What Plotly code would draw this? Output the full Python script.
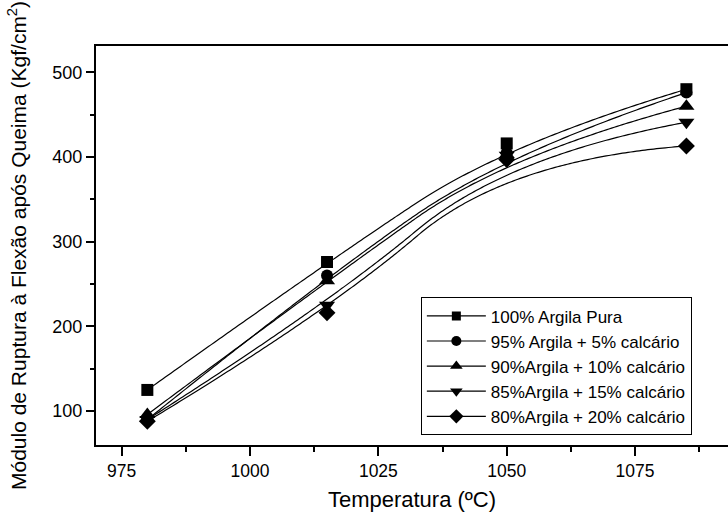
import numpy as np
import plotly.graph_objects as go

temperatures = [980, 1015, 1050, 1085]
series_names = [
    "100% Argila Pura",
    "95% Argila + 5% calcário",
    "90%Argila + 10% calcário",
    "85%Argila + 15% calcário",
    "80%Argila + 20% calcário",
]
argila_100 = [125, 276, 416, 480]
argila_95 = [90, 260, 405, 476]
argila_90 = [96, 254, 403, 460]
argila_85 = [90, 225, 402, 441]
argila_80 = [88, 216, 397, 413]
series_values = [argila_100, argila_95, argila_90, argila_85, argila_80]
symbols = ["square", "circle", "triangle-up", "triangle-down", "diamond"]
marker_sizes = [12, 12, 14, 14, 13]
legend_sizes = [9, 10, 11, 11, 11]

FONT = "Liberation Sans, Arial, sans-serif"


def bspline2(xs, ys, n=60):
    # clamped quadratic B-spline smoothing with data points as control points
    P = np.column_stack([np.asarray(xs, float), np.asarray(ys, float)])
    m = len(P)
    out = []
    u = np.linspace(0, 1, n)[:, None]
    for i in range(1, m - 1):
        a = P[0] if i == 1 else (P[i - 1] + P[i]) / 2
        b = P[i]
        c = P[-1] if i == m - 2 else (P[i] + P[i + 1]) / 2
        seg = (1 - u) ** 2 * a + 2 * u * (1 - u) * b + u ** 2 * c
        out.append(seg if i == 1 else seg[1:])
    out = np.vstack(out)
    return out[:, 0], out[:, 1]


fig = go.Figure()
for name, vals in zip(series_names, series_values):
    cx, cy = bspline2(temperatures, vals)
    fig.add_trace(go.Scatter(x=cx, y=cy, mode="lines",
                             line=dict(color="black", width=1.2, shape="spline", smoothing=0.6),
                             showlegend=False, hoverinfo="skip"))
for name, vals, sym, ms in zip(series_names, series_values, symbols, marker_sizes):
    fig.add_trace(go.Scatter(x=temperatures, y=vals, mode="markers",
                             marker=dict(symbol=sym, size=ms, color="black"),
                             showlegend=False, name=name))
for name, sym, ls in zip(series_names, symbols, legend_sizes):
    fig.add_trace(go.Scatter(x=[None], y=[None], mode="lines+markers", name=name,
                             line=dict(color="black", width=1.2),
                             marker=dict(symbol=sym, size=ls, color="black")))

fig.update_layout(
    width=728, height=512,
    margin=dict(l=96, r=0, t=46, b=67),
    paper_bgcolor="white", plot_bgcolor="white",
    font=dict(family=FONT, color="black", size=18),
    showlegend=True,
    legend=dict(x=0.514, y=0.37, xanchor="left", yanchor="top",
                bordercolor="black", borderwidth=1, bgcolor="white",
                font=dict(size=17, family=FONT), itemwidth=59,
                tracegroupgap=0),
)
fig.update_xaxes(
    range=[970, 1093.1], showgrid=False, zeroline=False,
    showline=True, linecolor="black", linewidth=2, mirror=True,
    ticks="outside", ticklen=9, tickwidth=1.5, tickcolor="black",
    tick0=975, dtick=25,
    minor=dict(ticks="outside", ticklen=5, tickwidth=1.5, tickcolor="black", dtick=12.5, tick0=975),
    tickfont=dict(size=17.5),
    title=dict(text="Temperatura (ºC)", font=dict(size=22), standoff=12),
)
fig.update_yaxes(
    range=[60, 531], showgrid=False, zeroline=False,
    showline=True, linecolor="black", linewidth=2, mirror=False,
    ticks="outside", ticklen=8, tickwidth=1.5, tickcolor="black",
    tick0=0, dtick=100,
    minor=dict(ticks="outside", ticklen=4, tickwidth=1.5, tickcolor="black", dtick=50, tick0=0),
    tickfont=dict(size=18),
    title=dict(text="Módulo de Ruptura à Flexão após Queima (Kgf/cm<sup>2</sup>)",
               font=dict(size=21), standoff=20),
)

fig.write_html("out.html")
